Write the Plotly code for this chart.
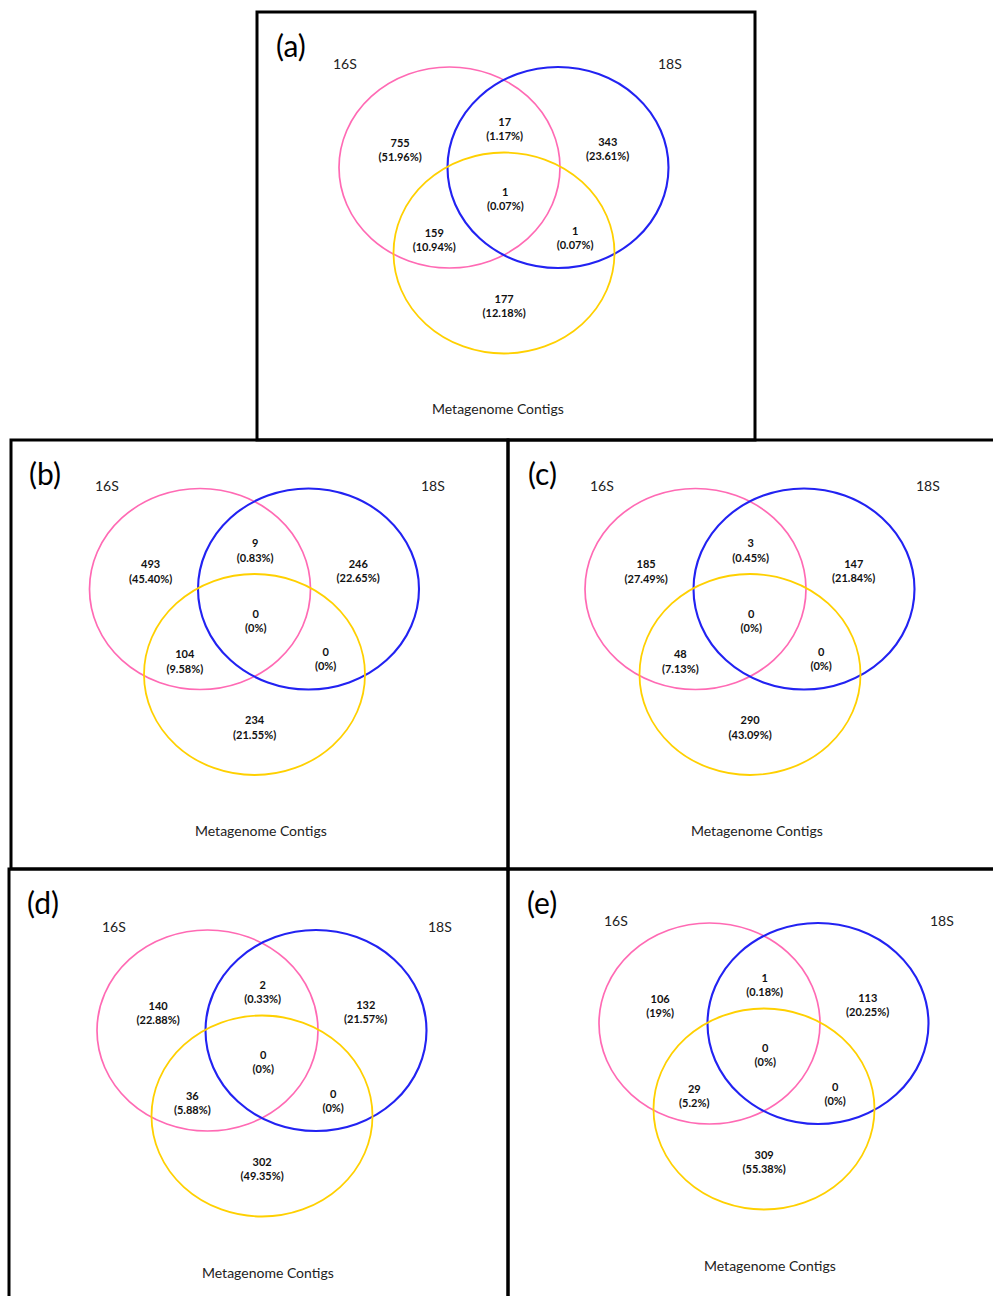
import plotly.graph_objects as go

# ---------------- data ----------------
panels = ["(a)", "(b)", "(c)", "(d)", "(e)"]
set_names = ["16S", "18S", "Metagenome Contigs"]
# region order: 16S only, 16S∩18S, 18S only, all three, 16S∩MC, 18S∩MC, MC only
region_names = ["16S only", "16S & 18S", "18S only", "All three",
                "16S & Metagenome", "18S & Metagenome", "Metagenome only"]

counts_a = [755, 17, 343, 1, 159, 1, 177]
pct_a = ["51.96%", "1.17%", "23.61%", "0.07%", "10.94%", "0.07%", "12.18%"]
counts_b = [493, 9, 246, 0, 104, 0, 234]
pct_b = ["45.40%", "0.83%", "22.65%", "0%", "9.58%", "0%", "21.55%"]
counts_c = [185, 3, 147, 0, 48, 0, 290]
pct_c = ["27.49%", "0.45%", "21.84%", "0%", "7.13%", "0%", "43.09%"]
counts_d = [140, 2, 132, 0, 36, 0, 302]
pct_d = ["22.88%", "0.33%", "21.57%", "0%", "5.88%", "0%", "49.35%"]
counts_e = [106, 1, 113, 0, 29, 0, 309]
pct_e = ["19%", "0.18%", "20.25%", "0%", "5.2%", "0%", "55.38%"]

panel_counts = [counts_a, counts_b, counts_c, counts_d, counts_e]
panel_pcts = [pct_a, pct_b, pct_c, pct_d, pct_e]

# ---------------- layout (page pixel space) ----------------
W, H = 993, 1296
boxes = [(257, 12, 755, 440), (11, 440, 508, 869), (508, 440, 1000, 869),
         (9, 869, 508, 1300), (508, 869, 1000, 1300)]
pink_centers = [(449.5, 167.5), (200, 589), (695.5, 589), (207.5, 1030.5), (709.5, 1023.5)]
# set label offsets relative to pink centre: 16S x, 18S x, y, MC x, MC y
set_label_off = [(-104.5, 220.5, -104.5, 48.5, 240.5),
                 (-93, 233, -104, 61, 241),
                 (-93.5, 232.5, -104, 61.5, 241),
                 (-93.5, 232.5, -104.5, 60.5, 241.5),
                 (-93.5, 232.5, -103.5, 60.5, 241.5)]
RX, RY = 110.5, 100.5
BLUE_DX = 108.5
YEL_DX, YEL_DY = 54.5, 85.5
region_off = [(-49.4, -16.2), (55.2, -37.1), (158.2, -17), (55.8, 33.1),
              (-15.2, 73.7), (125.6, 71.5), (54.6, 139.9)]

PINK, BLUE, YELLOW = "#FF6AB4", "#2222F2", "#FFD000"
FONT = "Lato, Carlito, 'Liberation Sans', sans-serif"

fig = go.Figure()
shapes = []
annotations = []

for i, p in enumerate(panels):
    x0, y0, x1, y1 = boxes[i]
    shapes.append(dict(type="rect", xref="x", yref="y", x0=x0, y0=y0, x1=x1, y1=y1,
                       line=dict(color="black", width=3), fillcolor="rgba(0,0,0,0)", layer="above"))
    cx, cy = pink_centers[i]
    circles = [((cx, cy), PINK, 1.7), ((cx + BLUE_DX, cy), BLUE, 2.1),
               ((cx + YEL_DX, cy + YEL_DY), YELLOW, 1.8)]
    for (ex, ey), col, lw in circles:
        shapes.append(dict(type="circle", xref="x", yref="y",
                           x0=ex - RX, x1=ex + RX, y0=ey - RY, y1=ey + RY,
                           line=dict(color=col, width=lw)))
    # panel letter
    annotations.append(dict(x=x0 + 34, y=y0 + 33, xref="x", yref="y", text=p, showarrow=False,
                            font=dict(family=FONT, size=30, color="black"),
                            xanchor="center", yanchor="middle"))
    s16x, s18x, sy, mcx, mcy = set_label_off[i]
    for name, sx, syy in [(set_names[0], cx + s16x, cy + sy), (set_names[1], cx + s18x, cy + sy),
                          (set_names[2], cx + mcx, cy + mcy)]:
        annotations.append(dict(x=sx, y=syy, xref="x", yref="y", text=name, showarrow=False,
                                font=dict(family=FONT, size=14, color="#222222"),
                                xanchor="center", yanchor="middle"))
    # region values
    xs = [cx + dx for dx, dy in region_off]
    ys = [cy + dy for dx, dy in region_off]
    texts = [f"<b>{c}<br>({pc})</b>" for c, pc in zip(panel_counts[i], panel_pcts[i])]
    fig.add_trace(go.Scatter(x=xs, y=ys, mode="text", text=texts, textposition="middle center",
                             textfont=dict(family=FONT, size=11, color="#111111"),
                             customdata=region_names, hoverinfo="skip", showlegend=False))

fig.update_layout(
    width=W, height=H, margin=dict(l=0, r=0, t=0, b=0),
    paper_bgcolor="white", plot_bgcolor="white",
    xaxis=dict(range=[0, W], visible=False, fixedrange=True),
    yaxis=dict(range=[H, 0], visible=False, fixedrange=True),
    shapes=shapes, annotations=annotations, showlegend=False,
)

fig.write_html("out.html", config={"displayModeBar": False},
               post_script="document.body.style.margin='0px';document.body.style.overflow='hidden';")
